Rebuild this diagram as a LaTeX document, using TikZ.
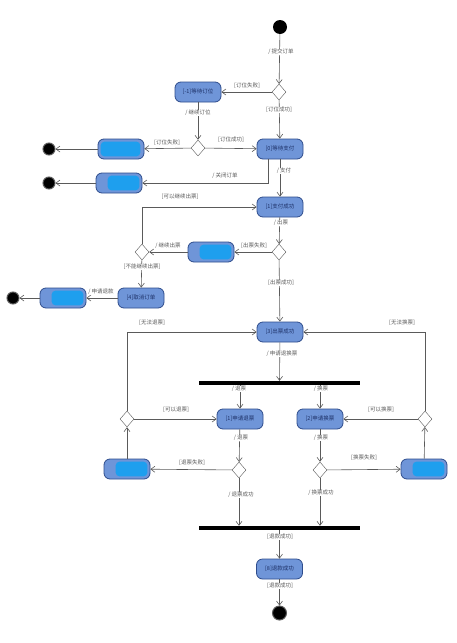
\documentclass[tikz,border=0pt]{standalone}
\usepackage{fontspec}
\newfontfamily\cjk{Noto Sans CJK SC}
\usetikzlibrary{shapes.geometric,arrows.meta}
\definecolor{boxfill}{HTML}{6F95D8}
\definecolor{boxline}{HTML}{2E4C8C}
\definecolor{boxtext}{HTML}{1C2F66}
\definecolor{linegray}{HTML}{5A5A5A}
\definecolor{smearblue}{HTML}{1E9FEE}
\tikzset{%
	act/.style      = {draw=boxline, fill=boxfill, line width=.8pt, rounded corners=6pt,
		minimum width=46pt, minimum height=20pt, inner sep=1pt,
		font=\cjk\fontsize{5.5}{6}\selectfont, text=boxtext}, % Activity
	choice/.style   = {draw=linegray, fill=white, diamond, minimum width=14pt,
		minimum height=16pt, inner sep=0pt}, % Decision
	startdot/.style = {circle, fill=black, minimum size=14pt, inner sep=0pt}, % Start
	enddot/.style   = {circle, fill=black, draw=linegray, line width=1pt,
		minimum size=12pt, inner sep=0pt}, % End
	bar/.style      = {fill=black, minimum width=161pt, minimum height=4pt, inner sep=0pt}, % Fork / join
	flow/.style     = {draw=linegray, line width=.6pt, -{Straight Barb[length=4pt,width=6pt]}},
	lbl/.style      = {font=\cjk\fontsize{5.5}{6}\selectfont, text=linegray, fill=white, inner sep=.6pt},
	smear/.style    = {fill=smearblue, rounded corners=4pt}
}

\begin{document}
\begin{tikzpicture}[x=1pt,y=-1pt]
			\useasboundingbox (0,0) rectangle (456,643);

			% booking
			\node[startdot]  (start)    at (280,27)  {};
			\node[choice]    (d1)       at (279,92)  {};
			\node[act]       (waitseat) at (198,92)  {[-1]等待订位};
			\node[choice]    (d2)       at (198,148) {};
			\node[act]       (seatfail) at (121,149) {};
			\node[enddot]    (end1)     at (49,149)  {};
			\node[act]       (waitpay)  at (280,149) {[0]等待支付};
			\node[act]       (closed)   at (119,183) {[-\hspace{30pt}};
			\node[enddot]    (end2)     at (49,183)  {};

			% ticket issuing
			\node[act]       (paid)     at (280,207) {[1]支付成功};
			\node[choice]    (d3)       at (279,252) {};
			\node[act]       (issfail)  at (211,252) {[2]\hspace{32pt}};
			\node[choice]    (d4)       at (142,252) {};
			\node[act]       (cancel)   at (141,298) {[4]取消订单};
			\node[act]       (refund)   at (63,298)  {[5]\hspace{28pt}};
			\node[enddot]    (end3)     at (13,298)  {};
			\node[act]       (ticketed) at (280,332) {[3]出票成功};

			% return / change
			\node[bar]       (fork)     at (279.5,383) {};
			\node[act]       (askret)   at (240,419) {[1]申请退票};
			\node[act]       (askchg)   at (320,419) {[2]申请换票};
			\node[choice]    (d5)       at (127,419) {};
			\node[choice]    (d6)       at (425,419) {};
			\node[choice]    (d7)       at (239,470) {};
			\node[choice]    (d8)       at (320,470) {};
			\node[act]       (retfail)  at (127,469) {[6]\hspace{32pt}};
			\node[act]       (chgfail)  at (424,469) {[7]\hspace{32pt}};
			\node[bar]       (join)     at (279.5,528) {};
			\node[act]       (done)     at (279.5,569) {[8]退款成功};
			\node[enddot, minimum size=14pt] (end4) at (279.5,613) {};

			% hidden texts
			\fill[smear] ([xshift=3pt,yshift=-3pt]seatfail.north west) rectangle ([xshift=-4pt,yshift=3pt]seatfail.south east);
			\foreach \b in {closed,issfail,refund,retfail,chgfail}
				\fill[smear] ([xshift=12pt,yshift=-3pt]\b.north west) rectangle ([xshift=-3pt,yshift=3pt]\b.south east);

			\draw[flow] (start) -- (d1);
			\draw[flow] (d1) -- (waitseat);
			\draw[flow] (waitseat) -- (d2);
			\draw[flow] (d2) -- (seatfail);
			\draw[flow] (seatfail) -- (end1);
			\draw[flow] (d2) -- (waitpay);
			\draw[flow] (d1) -- (waitpay);
			\draw[flow] (waitpay) -- (paid);
			\draw[flow] ([xshift=-12pt]waitpay.south) |- (closed);
			\draw[flow] (closed) -- (end2);
			\draw[flow] (paid) -- (d3);
			\draw[flow] (d3) -- (issfail);
			\draw[flow] (issfail) -- (d4);
			\draw[flow] (d4) |- (paid);
			\draw[flow] (d4) -- (cancel);
			\draw[flow] (cancel) -- (refund);
			\draw[flow] (refund) -- (end3);
			\draw[flow] (d3) -- (ticketed);
			\draw[flow] (ticketed) -- (fork);
			\draw[flow] (askret |- fork.south) -- (askret);
			\draw[flow] (askchg |- fork.south) -- (askchg);
			\draw[flow] (d5) -- (askret);
			\draw[flow] (d6) -- (askchg);
			\draw[flow] (d5) |- (ticketed);
			\draw[flow] (d6) |- (ticketed);
			\draw[flow] (askret) -- (d7);
			\draw[flow] (askchg) -- (d8);
			\draw[flow] (d7) -- (retfail);
			\draw[flow] (d8) -- (chgfail);
			\draw[flow] (retfail) -- (d5);
			\draw[flow] (chgfail) -- (d6);
			\draw[flow] (d7) -- (d7 |- join.north);
			\draw[flow] (d8) -- (d8 |- join.north);
			\draw[flow] (join) -- (done);
			\draw[flow] (done) -- (end4);

			% guards and actions
			\node[lbl] (l1)  at (281,52)  {/ 提交订单};
			\node[lbl] (l2)  at (247,86)  {[订位失败]};
			\node[lbl] (l3)  at (279,110) {[订位成功]};
			\node[lbl] (l4)  at (198,113) {/ 继续订位};
			\node[lbl] (l5)  at (167,143) {[订位失败]};
			\node[lbl] (l6)  at (231,140) {[订位成功]};
			\node[lbl] (l7)  at (284,171) {/ 支付};
			\node[lbl] (l8)  at (225,176) {/ 关闭订单};
			\node[lbl] (l9)  at (180,197) {[可以继续出票]};
			\node[lbl] (l10) at (281,223) {/ 出票};
			\node[lbl] (l11) at (254,246) {[出票失败]};
			\node[lbl] (l12) at (168,246) {/ 继续出票};
			\node[lbl] (l13) at (142,267) {[不能继续出票]};
			\node[lbl] (l14) at (101,292) {/ 申请退款};
			\node[lbl] (l15) at (281,283) {[出票成功]};
			\node[lbl] (l16) at (152,323) {[无法退票]};
			\node[lbl] (l17) at (402,323) {[无法换票]};
			\node[lbl] (l18) at (282,354) {/ 申请退换票};
			\node[lbl] (l19) at (239,389) {/ 退票};
			\node[lbl] (l20) at (321,389) {/ 换票};
			\node[lbl] (l21) at (176,410) {[可以退票]};
			\node[lbl] (l22) at (381,410) {[可以换票]};
			\node[lbl] (l23) at (241,438) {/ 退票};
			\node[lbl] (l24) at (321,438) {/ 换票};
			\node[lbl] (l25) at (192,463) {[退票失败]};
			\node[lbl] (l26) at (364,458) {[换票失败]};
			\node[lbl] (l27) at (241,495) {/ 退票成功};
			\node[lbl] (l28) at (321,493) {/ 换票成功};
			\node[lbl] (l29) at (280,537) {[退款成功]};
			\node[lbl] (l30) at (280,586) {[退款成功]};
		\end{tikzpicture}
\end{document}
